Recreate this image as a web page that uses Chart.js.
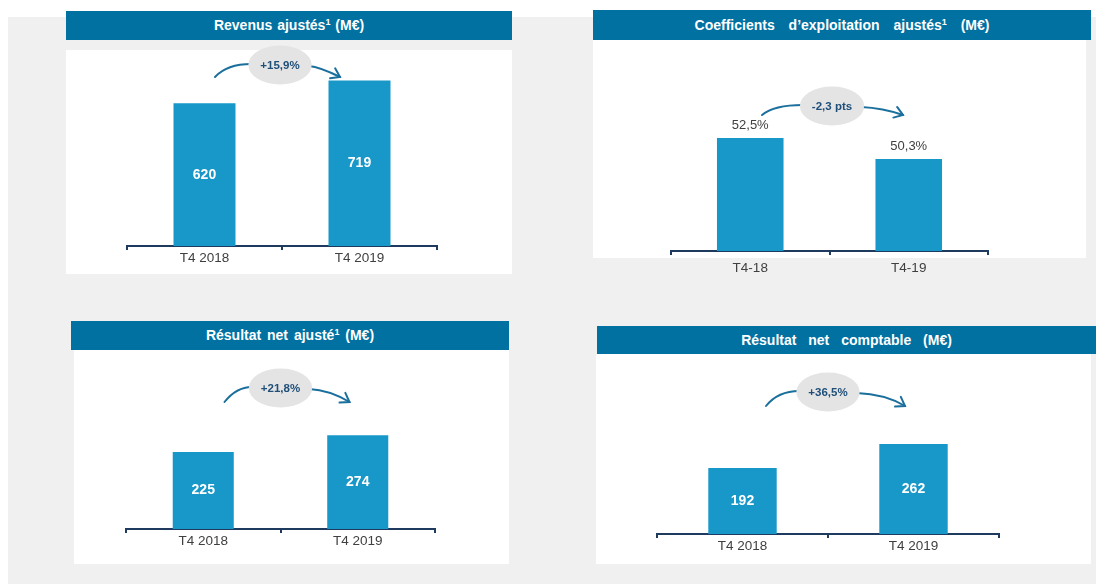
<!DOCTYPE html>
<html>
<head>
<meta charset="utf-8">
<script src="https://cdn.jsdelivr.net/npm/chart.js@4.4.1/dist/chart.umd.min.js"></script>
<style>
html, body { margin: 0; padding: 0; background: #fff; width: 1096px; height: 584px; overflow: hidden;
  font-family: "Liberation Sans", Arial, sans-serif; }
#bg { position: absolute; left: 8px; top: 17px; right: 0; bottom: 0; background: #f0f0f0; }
.panel { position: absolute; background: #fff; }
.head { position: absolute; background: #0071a1; color: #fff; font-weight: bold; font-size: 14px;
  text-align: center; white-space: nowrap; }
.head sup { font-size: 9px; line-height: 0; vertical-align: 5px; }
.box { position: absolute; }
</style>
</head>
<body>
<div id="bg"></div>
<script>
// data
const periodsLong = ["T4 2018", "T4 2019"];
const periodsShort = ["T4-18", "T4-19"];
const revenus = [620, 719];
const coefficients = [52.5, 50.3];
const resultatAjuste = [225, 274];
const resultatComptable = [192, 262];
const variations = ["+15,9%", "-2,3 pts", "+21,8%", "+36,5%"];

const BAR = "#1897c9";
const ARROW = "#1b6f9c";

const fmtInt = v => String(v);
const fmtPct = v => v.toFixed(1).replace(".", ",") + "%";

// draws value labels, the grey bubble and the two arrows
const decoPlugin = {
  id: "deco",
  afterDatasetsDraw(chart, args, o) {
    const ctx = chart.ctx;
    const meta = chart.getDatasetMeta(0);
    const vals = chart.data.datasets[0].data;
    ctx.save();
    ctx.textAlign = "center";
    ctx.textBaseline = "middle";
    meta.data.forEach((bar, i) => {
      ctx.font = o.inside ? "bold 14px 'Liberation Sans', Arial" : "13px 'Liberation Sans', Arial";
      ctx.fillStyle = o.inside ? "#fff" : "#404040";
      const y = o.inside ? (bar.y + bar.base) / 2 : bar.y - 13;
      ctx.fillText(o.format(vals[i]), bar.x, y);
    });

    const b0 = meta.data[0], b1 = meta.data[1];
    const cx = (b0.x + b1.x) / 2 + o.dx;
    const cy = chart.chartArea.top + o.bubbleY;
    ctx.font = "bold 11.5px 'Liberation Sans', Arial";
    const rx = ctx.measureText(o.label).width / 2 + 12;
    const ry = 19.5;

    ctx.strokeStyle = ARROW;
    ctx.lineWidth = 2;
    ctx.lineCap = "round";
    // left arc
    const sx = cx - o.arrowL, sy = cy + o.drop;
    ctx.beginPath();
    ctx.moveTo(sx, sy);
    ctx.quadraticCurveTo(sx + 12, cy - 1, cx - rx + 3, cy - 1);
    ctx.stroke();
    // right arc with head
    const ex = cx + o.arrowR, ey = cy + o.drop;
    const kx = ex - 20, ky = cy + 2;
    ctx.beginPath();
    ctx.moveTo(cx + rx - 3, cy + 1);
    ctx.quadraticCurveTo(kx, ky, ex, ey);
    ctx.stroke();
    const ang = Math.atan2(ey - ky, ex - kx);
    ctx.beginPath();
    ctx.moveTo(ex - 10 * Math.cos(ang - 0.6), ey - 10 * Math.sin(ang - 0.6));
    ctx.lineTo(ex, ey);
    ctx.lineTo(ex - 10 * Math.cos(ang + 0.6), ey - 10 * Math.sin(ang + 0.6));
    ctx.stroke();

    ctx.fillStyle = "#e4e4e4";
    ctx.beginPath();
    ctx.ellipse(cx, cy, rx, ry, 0, 0, Math.PI * 2);
    ctx.fill();
    ctx.fillStyle = "#1f4e79";
    ctx.fillText(o.label, cx, cy + 1);
    ctx.restore();
  }
};

const panels = [
  { title: "Revenus ajustés<sup>1</sup> (M€)", ws: 1, head: [66, 11, 446, 29], panel: [66, 50, 446, 224],
    axis: [127, 437, 246], top: 50, labels: periodsLong, values: revenus, min: 0, max: 852,
    bw: 0.40, pad: 0, deco: { inside: true, format: fmtInt, label: variations[0], dx: -2, bubbleY: 15, arrowL: 65, arrowR: 60, drop: 12 } },
  { title: "Coefficients d’exploitation ajustés<sup>1</sup> (M€)", ws: 10, head: [593, 10, 498, 30], panel: [593, 40, 493, 218],
    axis: [671, 988, 251], top: 40, labels: periodsShort, values: coefficients, min: 40.66, max: 62.77,
    bw: 0.42, pad: 5, deco: { inside: false, format: fmtPct, label: variations[1], dx: 2.5, bubbleY: 66, arrowL: 70, arrowR: 71, drop: 9 } },
  { title: "Résultat net ajusté<sup>1</sup> (M€)", ws: 2, head: [71, 321, 438, 29], panel: [74, 350, 435, 214],
    axis: [126, 435, 529], top: 350, labels: periodsLong, values: resultatAjuste, min: 0, max: 522.6,
    bw: 0.395, pad: 0, deco: { inside: true, format: fmtInt, label: variations[2], dx: 0, bubbleY: 38, arrowL: 56, arrowR: 69, drop: 14 } },
  { title: "Résultat net comptable (M€)", ws: 8, head: [597, 326, 499, 28], panel: [596, 354, 495, 210],
    axis: [657, 999, 534], top: 354, labels: periodsLong, values: resultatComptable, min: 0, max: 523.3,
    bw: 0.40, pad: 0, deco: { inside: true, format: fmtInt, label: variations[3], dx: 0, bubbleY: 38, arrowL: 62, arrowR: 77, drop: 14 } }
];

function place(el, r) {
  el.style.left = r[0] + "px"; el.style.top = r[1] + "px";
  el.style.width = r[2] + "px"; el.style.height = r[3] + "px";
}

panels.forEach(p => {
  const pn = document.createElement("div");
  pn.className = "panel"; place(pn, p.panel); document.body.appendChild(pn);

  const hd = document.createElement("div");
  hd.className = "head"; place(hd, p.head);
  hd.style.lineHeight = p.head[3] + "px";
  hd.style.wordSpacing = p.ws + "px";
  hd.innerHTML = p.title;
  document.body.appendChild(hd);

  const [x0, x1, ay] = p.axis;
  const padTop = 14, extra = 36;
  const lineH = 13.5 * 1.2;
  const box = document.createElement("div");
  box.className = "box";
  place(box, [x0 - 6, p.top - padTop, x1 - x0 + 12, ay - p.top + padTop + extra]);
  const cv = document.createElement("canvas");
  box.appendChild(cv);
  document.body.appendChild(box);

  new Chart(cv, {
    type: "bar",
    data: {
      labels: p.labels,
      datasets: [{ data: p.values, backgroundColor: BAR, barPercentage: p.bw, categoryPercentage: 1 }]
    },
    options: {
      responsive: true,
      maintainAspectRatio: false,
      animation: false,
      layout: { padding: { top: padTop, left: 6, right: 6, bottom: extra - (4 + lineH + 2 * p.pad) } },
      plugins: { legend: { display: false }, tooltip: { enabled: false }, deco: p.deco },
      scales: {
        x: {
          border: { color: "#1f3a5f", width: 2 },
          grid: { drawOnChartArea: false, color: "#1f3a5f", lineWidth: 2, tickLength: 4 },
          ticks: { color: "#404040", padding: p.pad, font: { family: "'Liberation Sans', Arial", size: 13.5, lineHeight: 1.2 } }
        },
        y: { display: false, min: p.min, max: p.max }
      }
    },
    plugins: [decoPlugin]
  });
});
</script>
</body>
</html>
